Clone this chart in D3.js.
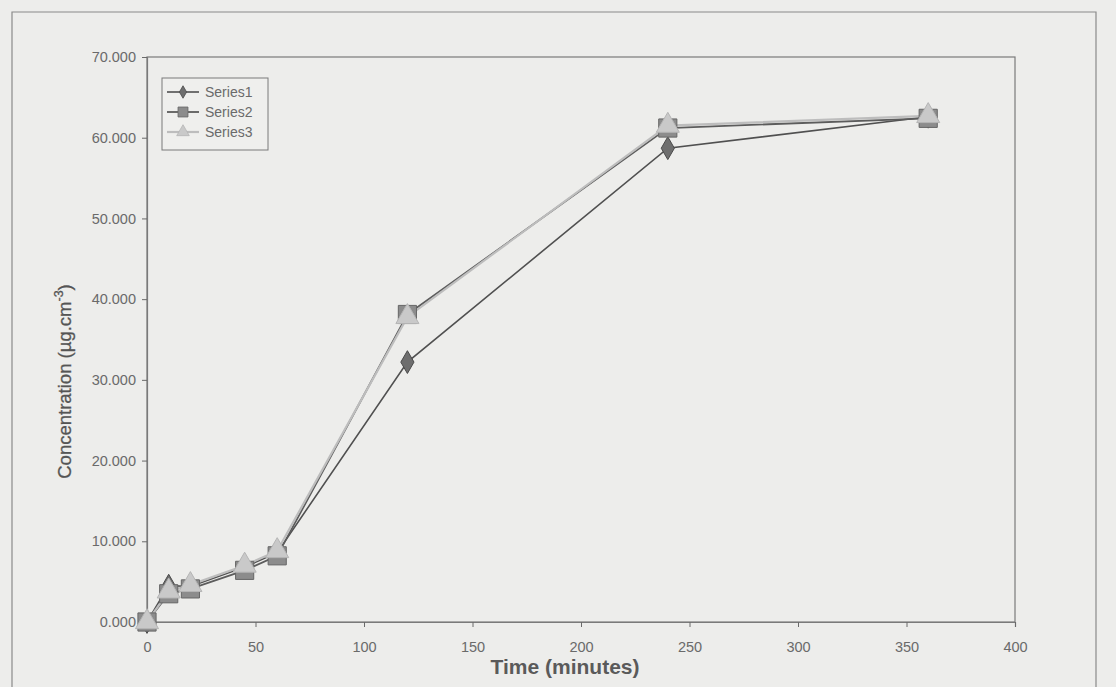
<!DOCTYPE html>
<html>
<head>
<meta charset="utf-8">
<script src="https://cdn.jsdelivr.net/npm/d3@7"></script>
<style>
  html, body { margin: 0; padding: 0; background: #ededeb; }
  svg { display: block; }
  text { font-family: "Liberation Sans", Arial, sans-serif; }
</style>
</head>
<body>
<svg id="chart" width="1116" height="687"></svg>
<script>
// Sampling times (minutes)
const times = [0, 10, 20, 45, 60, 120, 240, 360];
// Concentration readings for each run (µg.cm-3)
const series1 = [0.0, 4.5, 4.4, 6.8, 8.6, 32.2, 58.7, 62.6];
const series2 = [0.0, 3.5, 4.1, 6.4, 8.2, 38.1, 61.2, 62.4];
const series3 = [0.0, 3.8, 4.6, 7.0, 8.8, 37.8, 61.5, 62.7];
const seriesNames = ["Series1", "Series2", "Series3"];
const xTicks = [0, 50, 100, 150, 200, 250, 300, 350, 400];
const yTicks = [0, 10, 20, 30, 40, 50, 60, 70];

const svg = d3.select("#chart");
const W = 1116, H = 687;
const plot = { left: 147, right: 1015, top: 57, bottom: 622 };

// outer frame
svg.append("path")
  .attr("d", `M12,${H} V12 H1096 V${H}`)
  .attr("fill", "none").attr("stroke", "#8a8a8a").attr("stroke-width", 1.2);

const x = d3.scaleLinear().domain([0, 400]).range([plot.left, plot.right]);
const y = d3.scaleLinear().domain([0, 70]).range([plot.bottom, plot.top]);

// plot box
svg.append("rect")
  .attr("x", plot.left).attr("y", plot.top)
  .attr("width", plot.right - plot.left).attr("height", plot.bottom - plot.top)
  .attr("fill", "none").attr("stroke", "#7a7a7a").attr("stroke-width", 1.2);

// axes
const fmt = d3.format(".3f");
const yAxis = svg.append("g").attr("transform", `translate(${plot.left},0)`)
  .call(d3.axisLeft(y).tickValues(yTicks).tickFormat(fmt).tickSize(5).tickPadding(6));
const xAxis = svg.append("g").attr("transform", `translate(0,${plot.bottom})`)
  .call(d3.axisBottom(x).tickValues(xTicks).tickFormat(d3.format("d")).tickSize(5).tickPadding(15));
[xAxis, yAxis].forEach(g => {
  g.select(".domain").attr("stroke", "#7a7a7a").attr("stroke-width", 1.2);
  g.selectAll(".tick line").attr("stroke", "#6a6a6a");
  g.selectAll(".tick text").attr("fill", "#6a6a6a").attr("font-size", 14.5)
    .attr("font-family", "'Liberation Sans', Arial, sans-serif");
});

// axis titles
svg.append("text")
  .attr("x", 565).attr("y", 674)
  .attr("text-anchor", "middle").attr("font-size", 21).attr("font-weight", "bold")
  .attr("fill", "#5a5a5a").text("Time (minutes)");

const yt = svg.append("text")
  .attr("transform", `translate(71,${(plot.top + plot.bottom) / 2 + 42}) rotate(-90)`)
  .attr("text-anchor", "middle").attr("font-size", 18.5).attr("fill", "#555")
  .attr("stroke", "#555").attr("stroke-width", 0.3);
yt.append("tspan").text("Concentration (µg.cm");
yt.append("tspan").attr("dy", -8).attr("font-size", 12.5).text("-3");
yt.append("tspan").attr("dy", 8).text(")");

// series styling
const styles = [
  { data: series1, line: "#505050", width: 1.6, fill: "#6e6e6e", stroke: "#4a4a4a", symbol: d3.symbolDiamond, size: 150 },
  { data: series2, line: "#5c5c5c", width: 1.8, fill: "#8c8c8c", stroke: "#666", symbol: d3.symbolSquare, size: 330 },
  { data: series3, line: "#bdbdbd", width: 2.2, fill: "#c9c9c9", stroke: "#b5b5b5", symbol: d3.symbolTriangle, size: 230 }
];

const lineGen = d3.line().x((d, i) => x(times[i])).y(d => y(d));

styles.forEach(s => {
  svg.append("path").datum(s.data)
    .attr("d", lineGen).attr("fill", "none")
    .attr("stroke", s.line).attr("stroke-width", s.width);
});
styles.forEach(s => {
  svg.append("g").selectAll("path").data(s.data).join("path")
    .attr("transform", (d, i) => `translate(${x(times[i])},${y(d)})`)
    .attr("d", d3.symbol().type(s.symbol).size(s.size))
    .attr("fill", s.fill).attr("stroke", s.stroke).attr("stroke-width", 1);
});

// legend
const lg = svg.append("g");
lg.append("rect").attr("x", 162).attr("y", 78).attr("width", 106).attr("height", 72)
  .attr("fill", "#efefed").attr("stroke", "#7a7a7a").attr("stroke-width", 1);
styles.forEach((s, i) => {
  const cy = 92 + i * 20;
  lg.append("line").attr("x1", 167).attr("x2", 199).attr("y1", cy).attr("y2", cy)
    .attr("stroke", s.line).attr("stroke-width", s.width);
  lg.append("path").attr("transform", `translate(183,${cy})`)
    .attr("d", d3.symbol().type(s.symbol).size(s.size * 0.3))
    .attr("fill", s.fill).attr("stroke", s.stroke).attr("stroke-width", 0.8);
  lg.append("text").attr("x", 205).attr("y", cy + 5).attr("font-size", 14)
    .attr("fill", "#6a6a6a").text(seriesNames[i]);
});
</script>
</body>
</html>
